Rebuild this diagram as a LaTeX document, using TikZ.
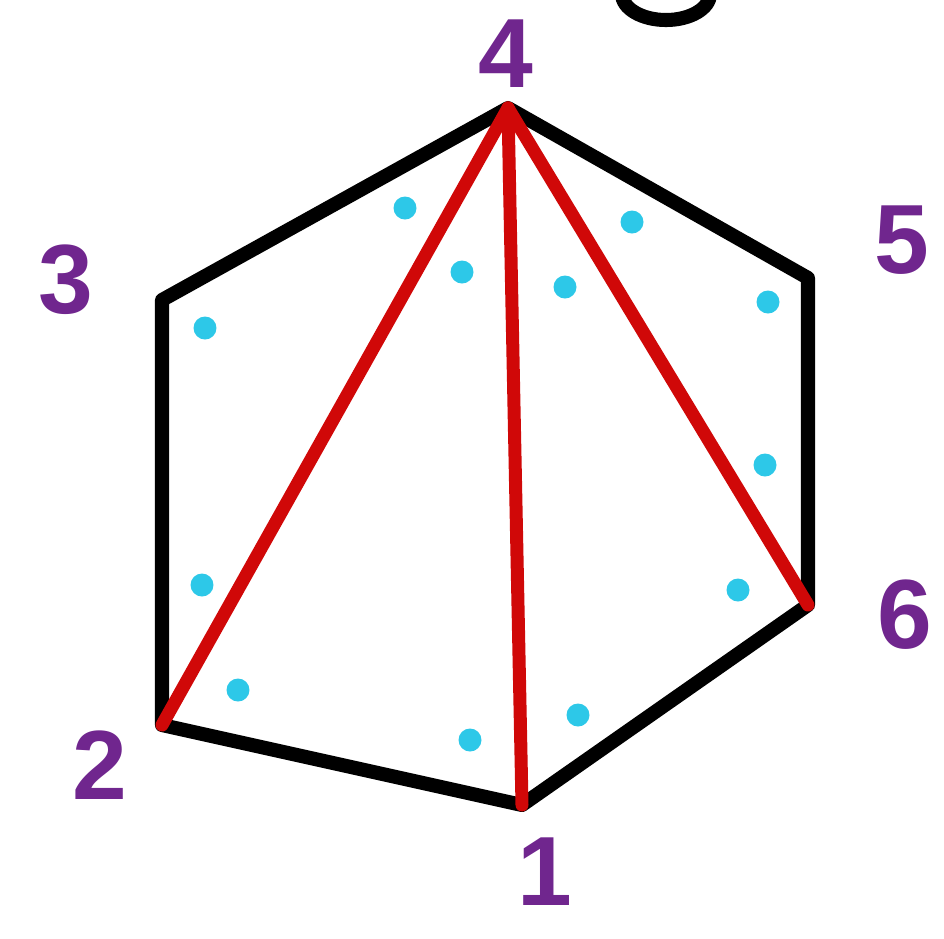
\documentclass[tikz,border=0pt]{standalone}
\usepackage{fontspec}
\setsansfont{Liberation Sans}
\usepackage{tikz}
\usetikzlibrary{positioning}
\definecolor{labpurple}{RGB}{112,38,142}
\definecolor{dotcyan}{RGB}{45,200,232}
\definecolor{diagred}{RGB}{208,8,8}

\begin{document}
\begin{tikzpicture}[
    x=0.02cm, y=-0.02cm,
    edge/.style={draw=black, line width=8pt, line join=round, line cap=round},
    diag/.style={draw=diagred, line width=7.4pt, line cap=round},
    vlabel/.style={
        text=labpurple, font=\sffamily\bfseries\fontsize{56}{56}\selectfont,
        inner sep=0pt
    },
    pt/.style={circle, fill=dotcyan, inner sep=0pt, minimum size=0.46cm}
]
\useasboundingbox (0,0) rectangle (944,938);

% Hexagon corners
\coordinate (v4) at (508,108);
\coordinate (v5) at (808,278);
\coordinate (v6) at (808,605);
\coordinate (v1) at (522,805);
\coordinate (v2) at (162,725);
\coordinate (v3) at (162,300);

% Outline
\draw[edge] (v4) -- (v5) -- (v6) -- (v1) -- (v2) -- (v3) -- cycle;

% Diagonals from corner 4
\draw[diag] (v4) -- (v2);
\draw[diag] (v4) -- (v1);
\draw[diag] (v4) -- (v6);

% Corner numbers
\node[vlabel] (lab4) at (506,54) {4};
\node[vlabel] (lab5) at (902,240) {5};
\node[vlabel] (lab6) at (905,615) {6};
\node[vlabel] (lab1) at (545,872) {1};
\node[vlabel] (lab2) at (100,765) {2};
\node[vlabel] (lab3) at (66,280) {3};

% Piece of a letter cut off at the top
\draw[line width=8pt] (622,-6) arc[start angle=180, end angle=360, x radius=44, y radius=-26];

% Points on the sides
\foreach \px/\py [count=\i] in {405/208, 462/272, 632/222, 565/287, 768/302,
    765/465, 205/328, 202/585, 238/690, 738/590, 578/715, 470/740}
    \node[pt] (p\i) at (\px,\py) {};

\end{tikzpicture}
\end{document}
